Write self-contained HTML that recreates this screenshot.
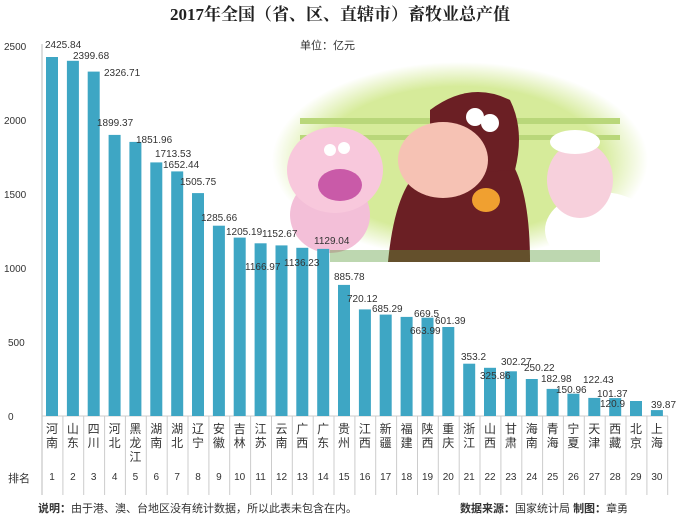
<!DOCTYPE html><html><head><meta charset="utf-8"><style>
body{margin:0;background:#fff;width:680px;height:519px;overflow:hidden;position:relative;font-family:"Liberation Sans","Noto Sans CJK SC",sans-serif}
.c{position:absolute;top:422px;width:13px;font-size:12px;line-height:14px;text-align:center;color:#333;word-break:break-all}
.r{position:absolute;top:472px;width:20px;text-align:center;font-size:10px;color:#333}
</style></head><body>
<svg width="680" height="519" style="position:absolute;left:0;top:0" font-family="Liberation Sans, Noto Sans CJK SC, sans-serif">
<defs><radialGradient id="g" cx="0.5" cy="0.5" r="0.5"><stop offset="0.75" stop-color="#d6eb9a"/><stop offset="1" stop-color="#fff"/></radialGradient></defs>
<text x="340" y="20" text-anchor="middle" font-size="17" font-weight="bold" font-family="Liberation Serif, Noto Serif CJK SC, serif" fill="#222">2017年全国（省、区、直辖市）畜牧业总产值</text>
<text x="300" y="49" font-size="11" fill="#333">单位：亿元</text>
<ellipse cx="460" cy="160" rx="188" ry="98" fill="url(#g)"/>
<rect x="300" y="118" width="320" height="6" fill="#b9d77a"/><rect x="300" y="135" width="320" height="5" fill="#b9d77a"/>
<ellipse cx="330" cy="215" rx="40" ry="38" fill="#f3bfd8"/>
<ellipse cx="335" cy="170" rx="48" ry="43" fill="#f8c8dc"/>
<circle cx="330" cy="150" r="6" fill="#fff"/><circle cx="344" cy="148" r="6" fill="#fff"/>
<ellipse cx="340" cy="185" rx="22" ry="16" fill="#c95aa8"/>
<path d="M388 262 Q395 190 420 170 L510 160 Q530 190 530 262Z" fill="#6b1f24"/>
<path d="M430 110 Q470 80 510 100 Q525 130 515 170 L430 175Z" fill="#6b1f24"/>
<ellipse cx="443" cy="160" rx="45" ry="38" fill="#f6c2b4"/>
<circle cx="475" cy="117" r="9" fill="#fff"/><circle cx="490" cy="123" r="9" fill="#fff"/>
<ellipse cx="486" cy="200" rx="14" ry="12" fill="#f0a030"/>
<ellipse cx="600" cy="230" rx="55" ry="38" fill="#fff"/>
<ellipse cx="580" cy="180" rx="33" ry="38" fill="#f7d0dc"/>
<ellipse cx="575" cy="142" rx="25" ry="12" fill="#fff"/>
<rect x="330" y="250" width="270" height="12" fill="#5a9a3a" opacity="0.4"/>
<g font-size="10" fill="#333"><text x="8" y="420">0</text><text x="8" y="346">500</text><text x="4" y="272">1000</text><text x="4" y="198">1500</text><text x="4" y="124">2000</text><text x="4" y="50">2500</text></g>
<line x1="42" y1="44" x2="42" y2="495" stroke="#bbb"/>
<line x1="42" y1="416" x2="668" y2="416" stroke="#ccc"/>
<g fill="#3ea6c4">
<rect x="46" y="57" width="12" height="359"/><rect x="66.9" y="60.8" width="12" height="355.2"/><rect x="87.7" y="71.6" width="12" height="344.4"/><rect x="108.6" y="134.9" width="12" height="281.1"/><rect x="129.4" y="141.9" width="12" height="274.1"/><rect x="150.3" y="162.4" width="12" height="253.6"/><rect x="171.2" y="171.4" width="12" height="244.6"/><rect x="192" y="193.1" width="12" height="222.9"/><rect x="212.9" y="225.7" width="12" height="190.3"/><rect x="233.7" y="237.6" width="12" height="178.4"/><rect x="254.6" y="243.3" width="12" height="172.7"/><rect x="275.5" y="245.4" width="12" height="170.6"/><rect x="296.3" y="247.8" width="12" height="168.2"/><rect x="317.2" y="248.9" width="12" height="167.1"/><rect x="338" y="284.9" width="12" height="131.1"/><rect x="358.9" y="309.4" width="12" height="106.6"/><rect x="379.7" y="314.6" width="12" height="101.4"/><rect x="400.6" y="316.9" width="12" height="99.1"/><rect x="421.5" y="317.7" width="12" height="98.3"/><rect x="442.3" y="327" width="12" height="89"/><rect x="463.2" y="363.7" width="12" height="52.3"/><rect x="484" y="367.8" width="12" height="48.2"/><rect x="504.9" y="371.3" width="12" height="44.7"/><rect x="525.8" y="379" width="12" height="37"/><rect x="546.6" y="388.9" width="12" height="27.1"/><rect x="567.4" y="393.7" width="12" height="22.3"/><rect x="588.3" y="397.9" width="12" height="18.1"/><rect x="609.2" y="398.1" width="12" height="17.9"/><rect x="630" y="401" width="12" height="15"/><rect x="650.9" y="410.1" width="12" height="5.9"/>
</g>
<g font-size="10" fill="#333">
<text x="45" y="48">2425.84</text><text x="73" y="59">2399.68</text><text x="104" y="76">2326.71</text><text x="97" y="126">1899.37</text><text x="136" y="143">1851.96</text><text x="155" y="157">1713.53</text><text x="163" y="168">1652.44</text><text x="180" y="185">1505.75</text><text x="201" y="221">1285.66</text><text x="226" y="235">1205.19</text><text x="245" y="270">1166.97</text><text x="262" y="237">1152.67</text><text x="284" y="266">1136.23</text><text x="314" y="244">1129.04</text><text x="334" y="280">885.78</text><text x="347" y="302">720.12</text><text x="372" y="312">685.29</text><text x="414" y="317">669.5</text><text x="410" y="334">663.99</text><text x="435" y="324">601.39</text><text x="461" y="360">353.2</text><text x="480" y="379">325.86</text><text x="501" y="365">302.27</text><text x="524" y="371">250.22</text><text x="541" y="382">182.98</text><text x="556" y="393">150.96</text><text x="583" y="383">122.43</text><text x="600" y="407">120.9</text><text x="597" y="397">101.37</text><text x="651" y="408">39.87</text>
</g>
<g stroke="#ccc">
<line x1="62.9" y1="416" x2="62.9" y2="495"/><line x1="83.7" y1="416" x2="83.7" y2="495"/><line x1="104.6" y1="416" x2="104.6" y2="495"/><line x1="125.4" y1="416" x2="125.4" y2="495"/><line x1="146.3" y1="416" x2="146.3" y2="495"/><line x1="167.2" y1="416" x2="167.2" y2="495"/><line x1="188" y1="416" x2="188" y2="495"/><line x1="208.9" y1="416" x2="208.9" y2="495"/><line x1="229.7" y1="416" x2="229.7" y2="495"/><line x1="250.6" y1="416" x2="250.6" y2="495"/><line x1="271.5" y1="416" x2="271.5" y2="495"/><line x1="292.3" y1="416" x2="292.3" y2="495"/><line x1="313.2" y1="416" x2="313.2" y2="495"/><line x1="334" y1="416" x2="334" y2="495"/><line x1="354.9" y1="416" x2="354.9" y2="495"/><line x1="375.7" y1="416" x2="375.7" y2="495"/><line x1="396.6" y1="416" x2="396.6" y2="495"/><line x1="417.5" y1="416" x2="417.5" y2="495"/><line x1="438.3" y1="416" x2="438.3" y2="495"/><line x1="459.2" y1="416" x2="459.2" y2="495"/><line x1="480" y1="416" x2="480" y2="495"/><line x1="500.9" y1="416" x2="500.9" y2="495"/><line x1="521.8" y1="416" x2="521.8" y2="495"/><line x1="542.6" y1="416" x2="542.6" y2="495"/><line x1="563.4" y1="416" x2="563.4" y2="495"/><line x1="584.3" y1="416" x2="584.3" y2="495"/><line x1="605.2" y1="416" x2="605.2" y2="495"/><line x1="626" y1="416" x2="626" y2="495"/><line x1="646.9" y1="416" x2="646.9" y2="495"/><line x1="667.7" y1="416" x2="667.7" y2="495"/>
</g>
<text x="8" y="482" font-size="11" fill="#333">排名</text>
<text x="38" y="512" font-size="11" fill="#333"><tspan font-weight="bold">说明：</tspan>由于港、澳、台地区没有统计数据，所以此表未包含在内。</text>
<text x="460" y="512" font-size="11" fill="#333"><tspan font-weight="bold">数据来源：</tspan>国家统计局  <tspan font-weight="bold">制图：</tspan>章勇</text>
</svg>
<div class="c" style="left:45.5px">河南</div><div class="c" style="left:66.4px">山东</div><div class="c" style="left:87.2px">四川</div><div class="c" style="left:108.1px">河北</div><div class="c" style="left:128.9px">黑龙江</div><div class="c" style="left:149.8px">湖南</div><div class="c" style="left:170.7px">湖北</div><div class="c" style="left:191.5px">辽宁</div><div class="c" style="left:212.4px">安徽</div><div class="c" style="left:233.2px">吉林</div><div class="c" style="left:254.1px">江苏</div><div class="c" style="left:275px">云南</div><div class="c" style="left:295.8px">广西</div><div class="c" style="left:316.7px">广东</div><div class="c" style="left:337.5px">贵州</div><div class="c" style="left:358.4px">江西</div><div class="c" style="left:379.2px">新疆</div><div class="c" style="left:400.1px">福建</div><div class="c" style="left:421px">陕西</div><div class="c" style="left:441.8px">重庆</div><div class="c" style="left:462.7px">浙江</div><div class="c" style="left:483.5px">山西</div><div class="c" style="left:504.4px">甘肃</div><div class="c" style="left:525.3px">海南</div><div class="c" style="left:546.1px">青海</div><div class="c" style="left:566.9px">宁夏</div><div class="c" style="left:587.8px">天津</div><div class="c" style="left:608.7px">西藏</div><div class="c" style="left:629.5px">北京</div><div class="c" style="left:650.4px">上海</div>
<div class="r" style="left:42px">1</div><div class="r" style="left:62.9px">2</div><div class="r" style="left:83.7px">3</div><div class="r" style="left:104.6px">4</div><div class="r" style="left:125.4px">5</div><div class="r" style="left:146.3px">6</div><div class="r" style="left:167.2px">7</div><div class="r" style="left:188px">8</div><div class="r" style="left:208.9px">9</div><div class="r" style="left:229.7px">10</div><div class="r" style="left:250.6px">11</div><div class="r" style="left:271.5px">12</div><div class="r" style="left:292.3px">13</div><div class="r" style="left:313.2px">14</div><div class="r" style="left:334px">15</div><div class="r" style="left:354.9px">16</div><div class="r" style="left:375.7px">17</div><div class="r" style="left:396.6px">18</div><div class="r" style="left:417.5px">19</div><div class="r" style="left:438.3px">20</div><div class="r" style="left:459.2px">21</div><div class="r" style="left:480px">22</div><div class="r" style="left:500.9px">23</div><div class="r" style="left:521.8px">24</div><div class="r" style="left:542.6px">25</div><div class="r" style="left:563.4px">26</div><div class="r" style="left:584.3px">27</div><div class="r" style="left:605.2px">28</div><div class="r" style="left:626px">29</div><div class="r" style="left:646.9px">30</div>
</body></html>
